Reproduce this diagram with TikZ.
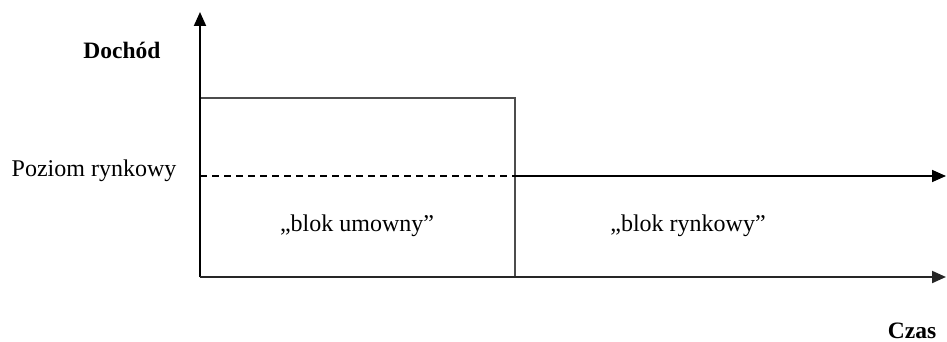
\documentclass[tikz,border=0pt]{standalone}
\usepackage{fontspec}
\setmainfont{Liberation Serif}
\usetikzlibrary{arrows.meta}
\begin{document}
\begin{tikzpicture}[x=1pt,y=-1pt,
  axis/.style={line width=2pt,-{Triangle[length=14pt,width=12pt]}},
  boxline/.style={line width=2pt,draw=black!70},
  lbl/.style={font=\fontsize{24}{28}\selectfont,inner sep=0pt},
  blbl/.style={font=\fontsize{23.5}{28}\selectfont\bfseries,inner sep=0pt}]
\useasboundingbox (0,0) rectangle (947,342);
\coordinate (O) at (200,277);
\coordinate (ytip) at (200,12);
\coordinate (xtip) at (946,277);
\coordinate (lvlL) at (200,176);
\coordinate (lvlM) at (515,176);
\coordinate (lvltip) at (946,176);
\coordinate (rtop) at (515,98);
% rectangle
\draw[boxline] (O) |- (rtop) -- (O -| rtop);
% axes
\draw[axis] (O) -- (ytip);
\draw[axis,draw=black!85] (O) -- (xtip);
% market level
\draw[line width=1.6pt,dash pattern=on 7pt off 5pt] (lvlL) -- (lvlM);
\draw[axis,line width=1.6pt] (lvlM) -- (lvltip);
% labels
\node[blbl] (doch) at (122,50) {Dochód};
\node[blbl] (czas) at (912,331) {Czas};
\node[lbl] (poz) at (94,171) {Poziom rynkowy};
\node[lbl] (bu) at (357,226) {„blok umowny”};
\node[lbl] (br) at (688,226) {„blok rynkowy”};
\end{tikzpicture}
\end{document}
